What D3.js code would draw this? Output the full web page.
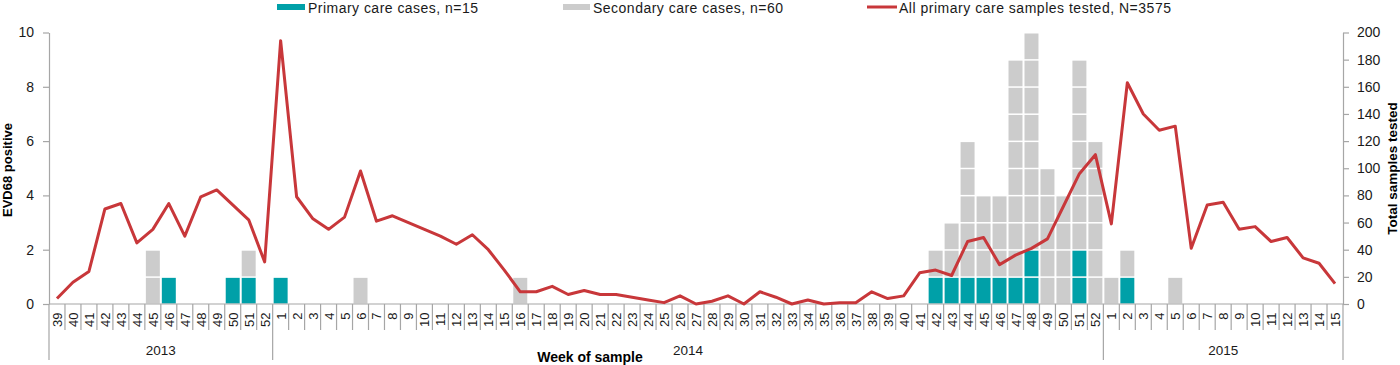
<!DOCTYPE html>
<html>
<head>
<meta charset="utf-8">
<script src="https://cdn.jsdelivr.net/npm/d3@7"></script>
<style>
  html, body { margin: 0; padding: 0; background: #fff; }
  svg { display: block; font-family: "Liberation Sans", Arial, sans-serif; }
</style>
</head>
<body>
<svg id="chart" width="1400" height="365"></svg>
<script>
// ---- data ----
const years = ["2013", "2014", "2015"];
const weeks2013 = [39,40,41,42,43,44,45,46,47,48,49,50,51,52];
const weeks2014 = [1,2,3,4,5,6,7,8,9,10,11,12,13,14,15,16,17,18,19,20,21,22,23,24,25,26,27,28,29,30,31,32,33,34,35,36,37,38,39,40,41,42,43,44,45,46,47,48,49,50,51,52];
const weeks2015 = [1,2,3,4,5,6,7,8,9,10,11,12,13,14,15];

const primary2013   = [0,0,0,0,0,0,0,1,0,0,0,1,1,0];
const secondary2013 = [0,0,0,0,0,0,2,0,0,0,0,0,1,0];
const samples2013   = [4,16,24,70,74,45,55,74,50,79,84,73,62,31];

const primary2014   = [1,0,0,0,0,0,0,0,0,0,0,0,0,0,0,0,0,0,0,0,0,0,0,0,0,0,0,0,0,0,0,0,0,0,0,0,0,0,0,0,0,1,1,1,1,1,1,2,0,0,2,0];
const secondary2014 = [0,0,0,0,0,1,0,0,0,0,0,0,0,0,0,1,0,0,0,0,0,0,0,0,0,0,0,0,0,0,0,0,0,0,0,0,0,0,0,0,0,1,2,5,3,3,8,8,5,4,7,6];
const samples2014   = [194,79,63,55,64,98,61,65,60,55,50,44,51,40,25,9,9,13,7,10,7,7,5,3,1,6,0,2,6,0,9,5,0,3,0,1,1,9,4,6,23,25,21,46,49,29,36,41,48,72,96,110];

const primary2015   = [0,1,0,0,0,0,0,0,0,0,0,0,0,0,0];
const secondary2015 = [1,1,0,0,1,0,0,0,0,0,0,0,0,0,0];
const samples2015   = [59,163,140,128,131,41,73,75,55,57,46,49,34,30,15];

const leftTicks  = [0,2,4,6,8,10];
const rightTicks = [0,20,40,60,80,100,120,140,160,180,200];

const legendLabels = ["Primary care cases, n=15", "Secondary care cases, n=60", "All primary care samples tested, N=3575"];
const leftTitle = "EVD68 positive";
const rightTitle = "Total samples tested";
const xTitle = "Week of sample";

// ---- build table ----
const weeksByYear = [weeks2013, weeks2014, weeks2015];
const primByYear = [primary2013, primary2014, primary2015];
const secByYear = [secondary2013, secondary2014, secondary2015];
const sampByYear = [samples2013, samples2014, samples2015];
const rows = [];
years.forEach((yr, yi) => {
  weeksByYear[yi].forEach((w, i) => {
    rows.push({ key: yr + "-" + w, year: yr, week: w,
      primary: primByYear[yi][i], secondary: secByYear[yi][i], samples: sampByYear[yi][i] });
  });
});

// ---- layout ----
const C_TEAL = "#00A0A8", C_GRAY = "#CCCCCC", C_RED = "#C8373A", C_AXIS = "#A6A6A6", C_TEXT = "#1a1a1a";
const pLeft = 49, pRight = 1343, pTop = 32.5, pBase = 304;
const svg = d3.select("#chart");

const x = d3.scaleBand().domain(rows.map(d => d.key)).range([pLeft, pRight]).padding(0);
const yL = d3.scaleLinear().domain([0, 10]).range([pBase, pTop]);
const yR = d3.scaleLinear().domain([0, 200]).range([pBase, pTop]);
const bw = x.bandwidth();

// ---- stacked unit cells ----
const cells = [];
rows.forEach(d => {
  for (let k = 0; k < d.primary; k++) cells.push({ key: d.key, level: k, color: C_TEAL });
  for (let k = 0; k < d.secondary; k++) cells.push({ key: d.key, level: d.primary + k, color: C_GRAY });
});
svg.append("g").selectAll("rect").data(cells).join("rect")
  .attr("x", d => x(d.key) + 1)
  .attr("width", bw - 2)
  .attr("y", d => yL(d.level + 1) + 1)
  .attr("height", d => yL(d.level) - yL(d.level + 1) - 1.5)
  .attr("fill", d => d.color);

// ---- axes ----
const gL = svg.append("g").attr("transform", `translate(${pLeft},0)`)
  .call(d3.axisLeft(yL).tickValues(leftTicks).tickSize(6).tickSizeOuter(0).tickPadding(9));
const gR = svg.append("g").attr("transform", `translate(${pRight},0)`)
  .call(d3.axisRight(yR).tickValues(rightTicks).tickSize(6).tickSizeOuter(0).tickPadding(8));
[gL, gR].forEach(g => {
  g.select(".domain").attr("stroke", C_AXIS).attr("stroke-width", 1.2);
  g.selectAll(".tick line").attr("stroke", C_AXIS).attr("stroke-width", 1.2);
  g.selectAll(".tick text").attr("fill", C_TEXT).style("font-size", "14px").style("font-family", "Liberation Sans, Arial, sans-serif");
});

// baseline
svg.append("line").attr("x1", pLeft).attr("x2", pRight).attr("y1", pBase).attr("y2", pBase)
  .attr("stroke", C_AXIS).attr("stroke-width", 1.2);

// week cell separators
const boundaries = rows.map(d => x(d.key)).concat([pRight]);
const yearStarts = new Set();
years.forEach(yr => { const r = rows.find(d => d.year === yr); yearStarts.add(x(r.key)); });
svg.append("g").selectAll("line").data(boundaries).join("line")
  .attr("x1", d => d).attr("x2", d => d)
  .attr("y1", pBase)
  .attr("y2", d => (yearStarts.has(d) || d === pRight) ? 360 : 330)
  .attr("stroke", C_AXIS).attr("stroke-width", 1.2);

// week labels
svg.append("g").selectAll("text").data(rows).join("text")
  .attr("transform", d => `translate(${x(d.key) + bw / 2 + 0.5},312.5) rotate(-90)`)
  .attr("text-anchor", "end")
  .attr("dominant-baseline", "central")
  .attr("fill", C_TEXT)
  .style("font-size", "13px")
  .text(d => d.week);

// year labels
years.forEach(yr => {
  const yrRows = rows.filter(d => d.year === yr);
  const x0 = x(yrRows[0].key), x1 = x(yrRows[yrRows.length - 1].key) + bw;
  svg.append("text").attr("x", (x0 + x1) / 2).attr("y", 355)
    .attr("text-anchor", "middle").attr("fill", C_TEXT).style("font-size", "13.5px").text(yr);
});

// x title
svg.append("text").attr("x", 590).attr("y", 361.5).attr("text-anchor", "middle")
  .attr("fill", "#000").style("font-size", "14px").style("font-weight", "bold").text(xTitle);

// y titles
svg.append("text").attr("transform", "translate(12,170) rotate(-90)")
  .attr("text-anchor", "middle").attr("fill", "#000")
  .style("font-size", "13px").style("font-weight", "bold").text(leftTitle);
svg.append("text").attr("transform", "translate(1396.5,168.5) rotate(-90)")
  .attr("text-anchor", "middle").attr("fill", "#000")
  .style("font-size", "13.5px").style("font-weight", "bold").text(rightTitle);

// ---- line ----
const line = d3.line().x(d => x(d.key) + bw / 2).y(d => yR(d.samples));
svg.append("path").datum(rows).attr("d", line)
  .attr("fill", "none").attr("stroke", C_RED).attr("stroke-width", 3).attr("stroke-linejoin", "round");

// ---- legend ----
const lg = svg.append("g");
lg.append("rect").attr("x", 277).attr("y", 4).attr("width", 28).attr("height", 6).attr("fill", C_TEAL);
lg.append("text").attr("x", 308).attr("y", 12.5).attr("textLength", 170).attr("lengthAdjust", "spacing")
  .attr("fill", C_TEXT).style("font-size", "14px").text(legendLabels[0]);
lg.append("rect").attr("x", 563).attr("y", 4).attr("width", 27).attr("height", 6).attr("fill", C_GRAY);
lg.append("text").attr("x", 593).attr("y", 12.5).attr("textLength", 190).attr("lengthAdjust", "spacing")
  .attr("fill", C_TEXT).style("font-size", "14px").text(legendLabels[1]);
lg.append("line").attr("x1", 867).attr("x2", 897).attr("y1", 7).attr("y2", 7)
  .attr("stroke", C_RED).attr("stroke-width", 3);
lg.append("text").attr("x", 899).attr("y", 12.5).attr("textLength", 272).attr("lengthAdjust", "spacing")
  .attr("fill", C_TEXT).style("font-size", "14px").text(legendLabels[2]);
</script>
</body>
</html>
